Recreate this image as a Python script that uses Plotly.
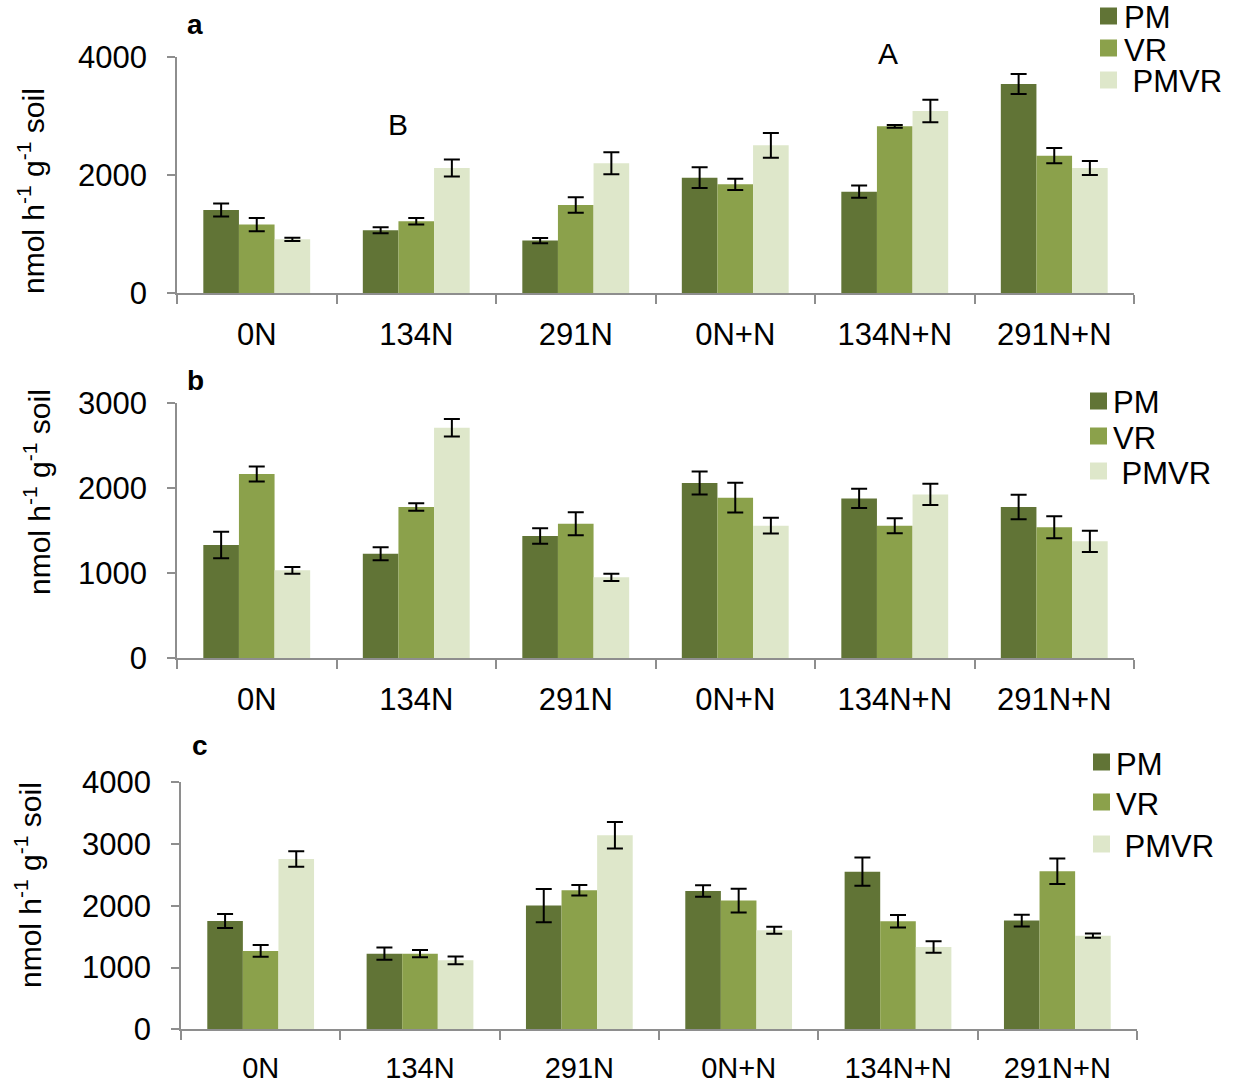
import plotly.graph_objects as go

W, H = 1233, 1082
FONT = "Liberation Sans, Arial, sans-serif"

# Treatments on the x axis
categories = ["0N", "134N", "291N", "0N+N", "134N+N", "291N+N"]
series_names = ["PM", "VR", "PMVR"]
series_labels = ["PM", "VR", "\u00a0PMVR"]
series_colors = ["#617436", "#8BA14B", "#DEE7CA"]

# Panel a
a_pm = [1412, 1068, 893, 1960, 1723, 3548]
a_pm_err = [110, 50, 45, 175, 102, 170]
a_vr = [1164, 1220, 1497, 1847, 2830, 2333]
a_vr_err = [113, 56, 133, 96, 23, 130]
a_pmvr = [915, 2124, 2203, 2508, 3090, 2124]
a_pmvr_err = [28, 144, 186, 209, 192, 119]

# Panel b
b_pm = [1330, 1228, 1435, 2057, 1877, 1776]
b_pm_err = [155, 76, 90, 135, 113, 143]
b_vr = [2163, 1776, 1580, 1885, 1557, 1537]
b_vr_err = [88, 43, 135, 174, 88, 129]
b_pmvr = [1032, 2706, 950, 1557, 1924, 1373]
b_pmvr_err = [39, 102, 43, 92, 125, 125]

# Panel c
c_pm = [1754, 1225, 2003, 2240, 2553, 1760]
c_pm_err = [113, 100, 270, 94, 229, 97]
c_vr = [1269, 1225, 2251, 2084, 1749, 2559]
c_vr_err = [95, 60, 84, 192, 100, 205]
c_pmvr = [2758, 1117, 3142, 1603, 1333, 1517]
c_pmvr_err = [127, 62, 216, 57, 94, 35]

a_ticks = [0, 2000, 4000]
b_ticks = [0, 1000, 2000, 3000]
c_ticks = [0, 1000, 2000, 3000, 4000]

y_title = "nmol h<sup>-1</sup> g<sup>-1</sup> soil"


def px(x):
    return x / W


def py(y):
    return 1 - y / H


panels = [
    dict(key="", letter="a", vals=[a_pm, a_vr, a_pmvr], errs=[a_pm_err, a_vr_err, a_pmvr_err],
         ticks=a_ticks, xdom=(177, 1134), ydom=(57.3, 293.3), cat_font=31,
         letter_pos=(195, 25), title_pos=(31, 191),
         leg_sq_x=1100, leg_rows=[16, 48, 80], leg_text_x=1122),
    dict(key="2", letter="b", vals=[b_pm, b_vr, b_pmvr], errs=[b_pm_err, b_vr_err, b_pmvr_err],
         ticks=b_ticks, xdom=(177, 1134), ydom=(402.7, 658.3), cat_font=31,
         letter_pos=(195, 380), title_pos=(37, 492),
         leg_sq_x=1090, leg_rows=[401, 436, 471], leg_text_x=1111),
    dict(key="3", letter="c", vals=[c_pm, c_vr, c_pmvr], errs=[c_pm_err, c_vr_err, c_pmvr_err],
         ticks=c_ticks, xdom=(181, 1137), ydom=(782.3, 1029.3), cat_font=29,
         letter_pos=(200, 745), title_pos=(28, 885),
         leg_sq_x=1093, leg_rows=[762, 802, 844], leg_text_x=1114),
]

fig = go.Figure()
layout = dict(
    width=W, height=H,
    margin=dict(l=0, r=0, t=0, b=0, autoexpand=False),
    paper_bgcolor="white", plot_bgcolor="white",
    font=dict(family=FONT, color="black", size=30),
    showlegend=False,
    barmode="group", bargap=0.33, bargroupgap=0,
)
annotations = []
shapes = []
AXIS_GREY = "#8E8E8E"

for p in panels:
    k = p["key"]
    for name, vals, errs, color in zip(series_names, p["vals"], p["errs"], series_colors):
        fig.add_trace(go.Bar(
            x=categories, y=vals, name=name,
            marker=dict(color=color, line=dict(width=0)),
            error_y=dict(type="data", array=errs, visible=True,
                         color="black", thickness=2, width=8),
            xaxis="x" + k, yaxis="y" + k,
        ))
    layout["xaxis" + k] = dict(
        domain=[px(p["xdom"][0]), px(p["xdom"][1])],
        anchor="y" + k, type="category", automargin=False,
        showline=True, linecolor=AXIS_GREY, linewidth=2,
        ticks="outside", tickson="boundaries", ticklen=9, tickwidth=1.5, tickcolor=AXIS_GREY,
        ticklabelstandoff=12,
        tickfont=dict(size=p["cat_font"], family=FONT, color="black"),
        showgrid=False, zeroline=False, fixedrange=True,
    )
    layout["yaxis" + k] = dict(
        domain=[py(p["ydom"][1]), py(p["ydom"][0])],
        anchor="x" + k, range=[0, p["ticks"][-1]], automargin=False,
        tickvals=p["ticks"], ticktext=[str(t) for t in p["ticks"]],
        showline=True, linecolor=AXIS_GREY, linewidth=1.5,
        ticks="outside", ticklen=8, tickwidth=1.5, tickcolor=AXIS_GREY,
        ticklabelstandoff=14,
        tickfont=dict(size=31, family=FONT, color="black"),
        showgrid=False, zeroline=False, fixedrange=True,
    )
    # panel letter
    annotations.append(dict(
        x=px(p["letter_pos"][0]), y=py(p["letter_pos"][1]), xref="paper", yref="paper",
        text="<b>%s</b>" % p["letter"], showarrow=False,
        font=dict(size=28, family=FONT, color="black"),
        xanchor="center", yanchor="middle",
    ))
    # y axis title
    annotations.append(dict(
        x=px(p["title_pos"][0]), y=py(p["title_pos"][1]), xref="paper", yref="paper",
        text=y_title, showarrow=False, textangle=-90,
        font=dict(size=30, family=FONT, color="black"),
        xanchor="center", yanchor="middle",
    ))
    # legend: colour swatches and series names
    for label, color, cy in zip(series_labels, series_colors, p["leg_rows"]):
        x0 = p["leg_sq_x"]
        shapes.append(dict(
            type="rect", xref="paper", yref="paper",
            x0=px(x0), x1=px(x0 + 17), y0=py(cy + 8.5), y1=py(cy - 8.5),
            fillcolor=color, line=dict(width=0),
        ))
        annotations.append(dict(
            x=px(p["leg_text_x"]), y=py(cy + 2), xref="paper", yref="paper",
            text=label, showarrow=False,
            font=dict(size=31, family=FONT, color="black"),
            xanchor="left", yanchor="middle",
        ))

# significance letters in panel a
for txt, (ax, ay) in [("B", (398, 124)), ("A", (888, 54))]:
    annotations.append(dict(
        x=px(ax), y=py(ay), xref="paper", yref="paper",
        text=txt, showarrow=False,
        font=dict(size=30, family=FONT, color="black"),
        xanchor="center", yanchor="middle",
    ))

layout["annotations"] = annotations
layout["shapes"] = shapes
fig.update_layout(**layout)
fig.write_html("out.html")
